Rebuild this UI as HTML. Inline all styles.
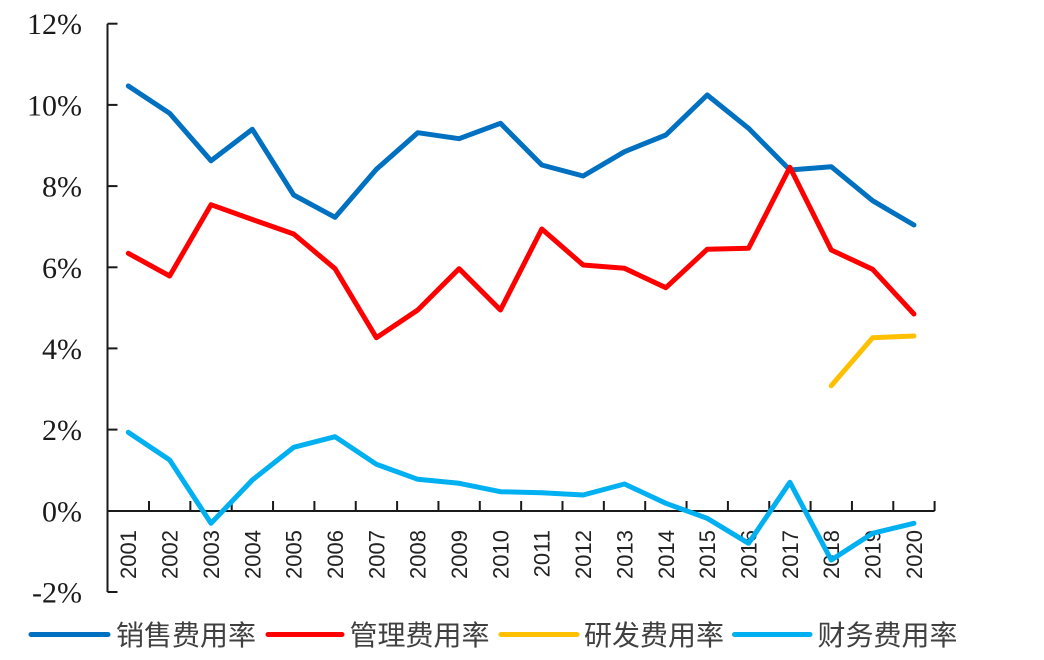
<!DOCTYPE html>
<html><head><meta charset="utf-8"><style>
html,body{margin:0;padding:0;background:#fff;width:1044px;height:660px;overflow:hidden}
svg{display:block}
.yl{font-family:"Liberation Serif","Noto Serif CJK SC",serif;font-size:30px;fill:#1a1a1a}
.xl{font-family:"Liberation Sans",sans-serif;font-size:22px;fill:#222}
.lg{font-family:"Liberation Sans","Noto Sans CJK SC",sans-serif;font-size:28px;fill:#404040}
</style></head><body>
<svg width="1044" height="660" viewBox="0 0 1044 660" xmlns="http://www.w3.org/2000/svg">
<defs><clipPath id="c"><rect x="0" y="0" width="956" height="660"/></clipPath></defs>
<g clip-path="url(#c)">
<!-- y labels -->
<g class="yl" text-anchor="end">
<text x="82" y="34">12%</text>
<text x="82" y="115.4">10%</text>
<text x="82" y="196.6">8%</text>
<text x="82" y="277.8">6%</text>
<text x="82" y="358.9">4%</text>
<text x="82" y="440.1">2%</text>
<text x="82" y="521.3">0%</text>
<text x="82" y="602.5">-2%</text>
</g>
<!-- axes -->
<g stroke="#1a1a1a" stroke-width="2" fill="none">
<line x1="107.5" y1="23.7" x2="107.5" y2="592"/>
<line x1="107.5" y1="23.7" x2="117.5" y2="23.7"/>
<line x1="107.5" y1="104.9" x2="117.5" y2="104.9"/>
<line x1="107.5" y1="186.1" x2="117.5" y2="186.1"/>
<line x1="107.5" y1="267.3" x2="117.5" y2="267.3"/>
<line x1="107.5" y1="348.4" x2="117.5" y2="348.4"/>
<line x1="107.5" y1="429.6" x2="117.5" y2="429.6"/>
<line x1="107.5" y1="592" x2="117.5" y2="592"/>
<line x1="107.5" y1="511" x2="934.6" y2="511"/>
<path d="M149,501V511M190.35,501V511M231.7,501V511M273.05,501V511M314.4,501V511M355.75,501V511M397.1,501V511M438.45,501V511M479.8,501V511M521.15,501V511M562.5,501V511M603.85,501V511M645.2,501V511M686.55,501V511M727.9,501V511M769.25,501V511M810.6,501V511M851.95,501V511M893.3,501V511M934.6,501V511"/>
</g>
<!-- x labels -->
<g class="xl" text-anchor="end">
<text transform="translate(128.3,530) rotate(-90)" y="7.9">2001</text>
<text transform="translate(169.65,530) rotate(-90)" y="7.9">2002</text>
<text transform="translate(211,530) rotate(-90)" y="7.9">2003</text>
<text transform="translate(252.35,530) rotate(-90)" y="7.9">2004</text>
<text transform="translate(293.7,530) rotate(-90)" y="7.9">2005</text>
<text transform="translate(335.05,530) rotate(-90)" y="7.9">2006</text>
<text transform="translate(376.4,530) rotate(-90)" y="7.9">2007</text>
<text transform="translate(417.75,530) rotate(-90)" y="7.9">2008</text>
<text transform="translate(459.1,530) rotate(-90)" y="7.9">2009</text>
<text transform="translate(500.45,530) rotate(-90)" y="7.9">2010</text>
<text transform="translate(541.8,530) rotate(-90)" y="7.9">2011</text>
<text transform="translate(583.15,530) rotate(-90)" y="7.9">2012</text>
<text transform="translate(624.5,530) rotate(-90)" y="7.9">2013</text>
<text transform="translate(665.85,530) rotate(-90)" y="7.9">2014</text>
<text transform="translate(707.2,530) rotate(-90)" y="7.9">2015</text>
<text transform="translate(748.55,530) rotate(-90)" y="7.9">2016</text>
<text transform="translate(789.9,530) rotate(-90)" y="7.9">2017</text>
<text transform="translate(831.25,530) rotate(-90)" y="7.9">2018</text>
<text transform="translate(872.6,530) rotate(-90)" y="7.9">2019</text>
<text transform="translate(913.95,530) rotate(-90)" y="7.9">2020</text>
</g>
<!-- series -->
<g fill="none" stroke-width="5" stroke-linejoin="round" stroke-linecap="round">
<polyline stroke="#0070C0" points="128.3,86 169.65,113.3 211,160.7 252.35,129.3 293.7,195 335.05,217.3 376.4,169.3 417.75,132.7 459.1,138.7 500.45,123.3 541.8,165 583.15,176 624.5,151.7 665.85,135 707.2,95 748.55,128.3 789.9,170 831.25,166.7 872.6,200.7 913.95,225"/>
<polyline stroke="#FF0000" points="128.3,253.3 169.65,276 211,204.7 252.35,219.5 293.7,234 335.05,268.7 376.4,337.7 417.75,310 459.1,268.7 500.45,310 541.8,229 583.15,265 624.5,268.3 665.85,287.7 707.2,249.3 748.55,248.3 789.9,167.3 831.25,250 872.6,269.3 913.95,314"/>
<polyline stroke="#FFC000" points="831.25,385.7 872.6,337.7 913.95,336"/>
<polyline stroke="#00B0F0" points="128.3,432.3 169.65,460 211,523.3 252.35,480 293.7,447.3 335.05,436.7 376.4,464.3 417.75,479.3 459.1,483.3 500.45,491.7 541.8,492.7 583.15,495 624.5,484 665.85,503.3 707.2,518.3 748.55,543.3 789.9,482.3 831.25,560 872.6,533.3 913.95,523.3"/>
</g>
<!-- legend -->
<g stroke-width="5" stroke-linecap="round">
<line x1="31" y1="634.5" x2="108" y2="634.5" stroke="#0070C0"/>
<line x1="268" y1="634.5" x2="342" y2="634.5" stroke="#FF0000"/>
<line x1="501" y1="634.5" x2="577" y2="634.5" stroke="#FFC000"/>
<line x1="734.5" y1="634.5" x2="810" y2="634.5" stroke="#00B0F0"/>
</g>
<g class="lg">
<text x="116" y="645">销售费用率</text>
<text x="349.5" y="645">管理费用率</text>
<text x="584" y="645">研发费用率</text>
<text x="817.5" y="645">财务费用率</text>
</g>
</g>
</svg>
</body></html>
